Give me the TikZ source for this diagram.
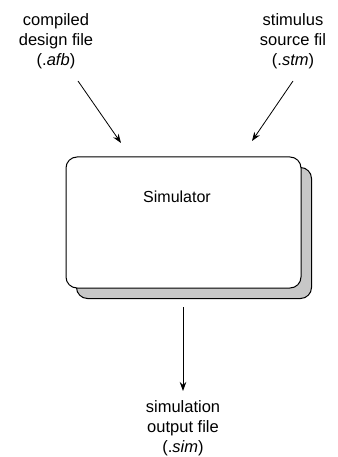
\documentclass[tikz,border=0pt]{standalone}
\usepackage{fontspec}
\setmainfont{Liberation Sans}
\usetikzlibrary{arrows.meta}
\begin{document}
\begin{tikzpicture}[x=1pt,y=-1pt,
  lbl/.style={align=center,font=\fontsize{16.5}{20}\selectfont,inner sep=0pt},
  conn/.style={line width=0.8pt,-{Stealth[length=9pt,width=6.5pt]}},
  boxstyle/.style={draw,line width=1pt,rounded corners=11pt,minimum width=235pt,minimum height=131pt,inner sep=0pt},
  shadowstyle/.style={boxstyle,fill=black!22}]
\useasboundingbox (0,0) rectangle (337,457);
% shadow and box
\node[shadowstyle] (shadow) at (194,233) {};
\node[boxstyle,fill=white] (sim) at (183.5,222.5) {};
\node[font=\fontsize{16}{20}\selectfont,inner sep=0pt] (simtext) at (177,197) {Simulator};
% labels
\node[lbl] (cdf) at (56,41) {compiled\\design file\\(.\textit{afb})};
\node[lbl] (ssf) at (293,41) {stimulus\\source fil\\(.\textit{stm})};
\node[lbl] (sof) at (183,428) {simulation\\output file\\(.\textit{sim})};
% connector ends
\coordinate (a1) at (78,81);
\coordinate (a2) at (121,143);
\coordinate (b1) at (293,81);
\coordinate (b2) at (252,141);
\coordinate (c1) at (183,307);
\coordinate (c2) at (183,391);
\draw[conn] (a1) -- (a2);
\draw[conn] (b1) -- (b2);
\draw[conn] (c1) -- (c2);
\end{tikzpicture}
\end{document}
